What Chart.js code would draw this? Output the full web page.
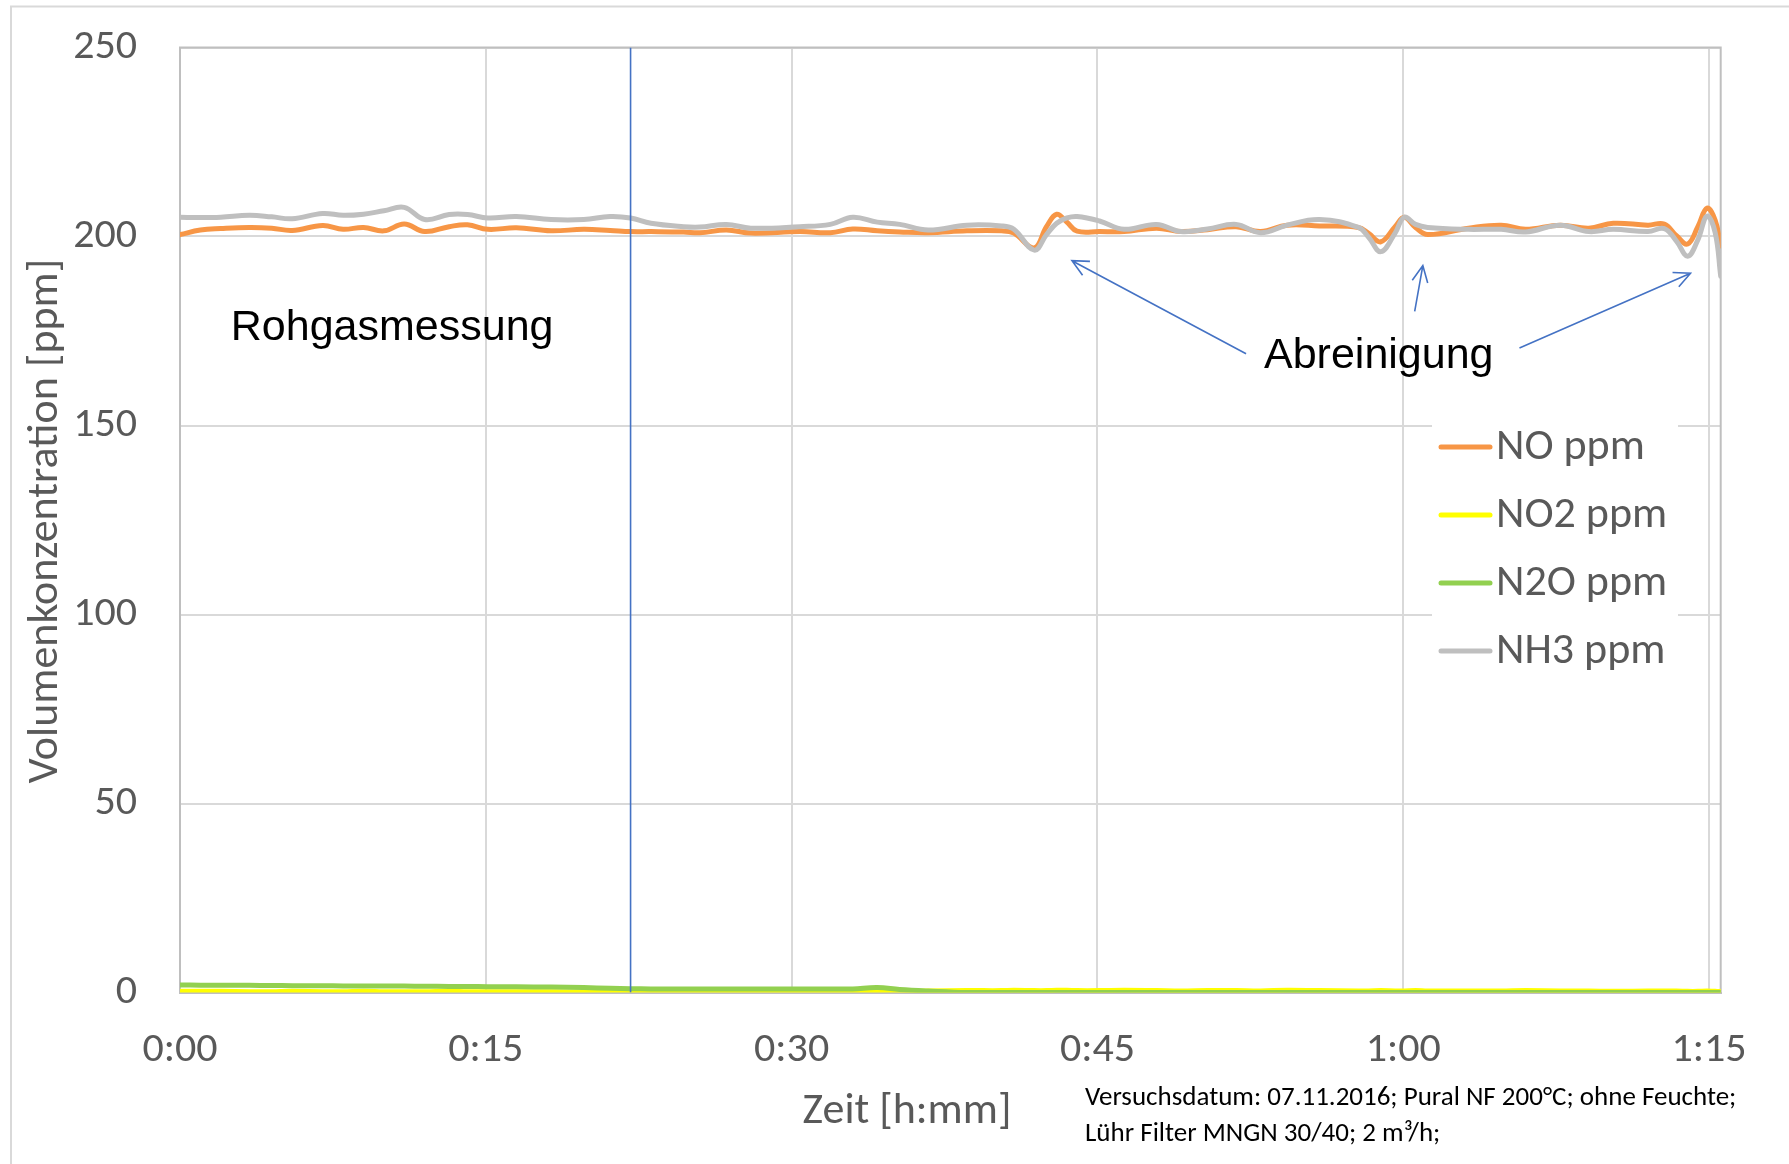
<!DOCTYPE html>
<html>
<head>
<meta charset="utf-8">
<title>Volumenkonzentration</title>
<script src="https://cdn.jsdelivr.net/npm/chart.js@4.4.1/dist/chart.umd.min.js"></script>
<style>
  html, body { margin: 0; padding: 0; background: #fff; }
  canvas { display: block; }
</style>
</head>
<body>
<canvas id="chart" width="1789" height="1164"></canvas>
<script>
// time in minutes since start of measurement
const minutes = [
  0, 1, 2, 3.4, 4.5, 5.5, 7, 8, 9, 10,
  11, 12, 13.2, 14.1, 15.1, 16.5, 18.2, 19.8, 21.1, 22.1,
  23.1, 24.7, 25.5, 26.8, 28, 30.4, 31.9, 33, 34.2, 35.3,
  36.7, 38.6, 40.3, 40.9, 41.9, 42.5, 43.0, 43.5, 44.0, 45.1,
  46.3, 47.9, 49.1, 50.4, 51.8, 53.0, 54.3, 55.9, 57.8, 58.3,
  58.9, 59.6, 60.05, 60.6, 61.2, 63.2, 64.8, 66.0, 67.7, 69.1,
  70.3, 72.0, 72.8, 73.4, 73.95, 74.45, 74.9, 75.3, 75.57,
];

const noPpm = [
  200.5, 201.7, 202.1, 202.4, 202.2, 201.6, 202.9, 201.9, 202.4, 201.5,
  203.3, 201.3, 202.6, 203.1, 201.9, 202.3, 201.5, 201.9, 201.6, 201.3,
  201.3, 201.2, 201.0, 201.7, 200.9, 201.3, 201.0, 202.0, 201.5, 201.2,
  201.0, 201.5, 201.5, 200.9, 197.0, 202.6, 205.9, 203.8, 201.4, 201.3,
  201.3, 202.2, 201.3, 201.8, 202.6, 201.3, 203.0, 202.8, 202.4, 200.8,
  198.6, 202.6, 205.1, 202.4, 200.5, 202.2, 203.0, 201.9, 203.0, 202.2,
  203.5, 203.0, 203.3, 200.2, 198.0, 202.6, 207.5, 204.3, 197.5,
];

const no2Ppm = [
  0.3, 0.3, 0.3, 0.2, 0.2, 0.3, 0.2, 0.2, 0.3, 0.2,
  0.2, 0.2, 0.3, 0.2, 0.2, 0.2, 0.2, 0.1, 0.1, 0.1,
  0.1, 0.1, 0.0, 0.0, 0.0, 0.0, 0.1, 0.1, 0.2, 0.3,
  0.4, 0.5, 0.5, 0.6, 0.5, 0.5, 0.6, 0.6, 0.5, 0.5,
  0.6, 0.5, 0.4, 0.5, 0.5, 0.4, 0.6, 0.5, 0.4, 0.4,
  0.5, 0.4, 0.4, 0.5, 0.4, 0.4, 0.4, 0.5, 0.4, 0.4,
  0.3, 0.4, 0.4, 0.4, 0.3, 0.3, 0.4, 0.3, 0.3,
];

const n2oPpm = [
  2.0, 1.95, 1.9, 1.9, 1.85, 1.8, 1.8, 1.75, 1.75, 1.7,
  1.7, 1.65, 1.6, 1.6, 1.55, 1.5, 1.45, 1.3, 1.1, 1.0,
  0.95, 0.95, 0.9, 0.9, 0.9, 0.9, 0.9, 0.95, 1.3, 0.8,
  0.4, 0.0, 0, 0, 0, 0, 0, 0, 0, 0,
  0, 0, 0, 0, 0, 0, 0, 0, 0, 0,
  0, 0, 0, 0, 0, 0, 0, 0, 0, 0,
  0, 0, 0, 0, 0, 0, 0, 0, 0,
];

const nh3Ppm = [
  205.1, 205.0, 205.1, 205.6, 205.2, 204.7, 206.1, 205.6, 205.9, 206.8,
  207.7, 204.5, 205.8, 205.8, 204.9, 205.3, 204.5, 204.5, 205.3, 204.9,
  203.5, 202.6, 202.5, 203.2, 202.2, 202.6, 203.2, 205.1, 203.8, 203.2,
  201.7, 203.0, 202.8, 201.9, 196.4, 200.5, 203.5, 204.9, 205.3, 204.1,
  201.9, 203.2, 201.3, 202.0, 203.2, 201.0, 203.0, 204.5, 202.4, 199.8,
  196.0, 200.9, 205.1, 203.2, 202.4, 201.9, 201.9, 201.2, 203.0, 201.3,
  201.9, 201.3, 202.1, 198.8, 194.8, 199.1, 205.4, 201.0, 189.5,
];

const xTicks = [0, 15, 30, 45, 60, 75];
const yTicks = [0, 50, 100, 150, 200, 250];
const xMax = 75.57;
const rawGasEnd = 22.1; // blue line: end of raw gas measurement

// annotations, in data units (minutes, ppm)
const textNotes = [
  { text: "Rohgasmessung", at: [2.49, 172.6] },
  { text: "Abreinigung", at: [53.17, 165.1] },
];
const arrowNotes = [
  { from: [52.29, 169.0], to: [43.75, 193.6] },
  { from: [60.56, 180.2], to: [60.96, 192.3] },
  { from: [65.70, 170.5], to: [74.09, 190.3] },
];

const uiFont = "Carlito, Lato, sans-serif";
const textGray = "#595959";

function fmtTime(v) {
  const h = Math.floor(v / 60);
  const m = Math.round(v % 60);
  return h + ":" + String(m).padStart(2, "0");
}

function toPoints(values) {
  return values.map((y, i) => ({ x: minutes[i], y }));
}

function series(label, values, color, order) {
  return {
    label,
    data: toPoints(values),
    borderColor: color,
    backgroundColor: color,
    borderWidth: 5,
    borderCapStyle: "round",
    borderJoinStyle: "round",
    pointRadius: 0,
    tension: 0.4,
    order,
  };
}

function drawArrow(ctx, x1, y1, x2, y2) {
  const ang = Math.atan2(y2 - y1, x2 - x1);
  const head = 18;
  ctx.beginPath();
  ctx.moveTo(x1, y1);
  ctx.lineTo(x2, y2);
  ctx.moveTo(x2 - head * Math.cos(ang - 0.45), y2 - head * Math.sin(ang - 0.45));
  ctx.lineTo(x2, y2);
  ctx.lineTo(x2 - head * Math.cos(ang + 0.45), y2 - head * Math.sin(ang + 0.45));
  ctx.stroke();
}

// white page, outer chart border, and frame round the plot area
const framePlugin = {
  id: "frame",
  beforeDraw(chart) {
    const ctx = chart.ctx;
    ctx.save();
    ctx.fillStyle = "#fff";
    ctx.fillRect(0, 0, chart.width, chart.height);
    ctx.strokeStyle = "#d9d9d9";
    ctx.lineWidth = 2;
    ctx.beginPath();
    ctx.moveTo(11, chart.height);
    ctx.lineTo(11, 6.5);
    ctx.lineTo(chart.width, 6.5);
    ctx.stroke();
    ctx.restore();
  },
  beforeDatasetsDraw(chart) {
    const { ctx, chartArea: a } = chart;
    ctx.save();
    ctx.strokeStyle = "#bfbfbf";
    ctx.lineWidth = 2;
    ctx.strokeRect(a.left, a.top, a.right - a.left, a.bottom - a.top);
    ctx.restore();
  },
};

const legendPlugin = {
  id: "boxLegend",
  afterDraw(chart) {
    const ctx = chart.ctx;
    const items = chart.data.datasets.filter((d) => d.label);
    ctx.save();
    ctx.fillStyle = "#fff";
    ctx.fillRect(1432, 416, 246, 263);
    ctx.font = "44px " + uiFont;
    ctx.textBaseline = "middle";
    items.forEach((d, i) => {
      const y = 447 + i * 68;
      ctx.strokeStyle = d.borderColor;
      ctx.lineWidth = 5;
      ctx.lineCap = "round";
      ctx.beginPath();
      ctx.moveTo(1441, y);
      ctx.lineTo(1490, y);
      ctx.stroke();
      ctx.fillStyle = textGray;
      ctx.fillText(d.label, 1496, y + 1);
    });
    ctx.restore();
  },
};

const notesPlugin = {
  id: "notes",
  afterDraw(chart) {
    const ctx = chart.ctx;
    const xs = chart.scales.x;
    const ys = chart.scales.y;
    const px = (p) => [xs.getPixelForValue(p[0]), ys.getPixelForValue(p[1])];
    ctx.save();

    ctx.fillStyle = "#000";
    ctx.font = "43px 'Liberation Sans', Arial, sans-serif";
    ctx.textBaseline = "alphabetic";
    for (const n of textNotes) {
      const [x, y] = px(n.at);
      ctx.fillText(n.text, x, y);
    }

    ctx.strokeStyle = "#4472c4";
    ctx.lineWidth = 1.6;
    for (const a of arrowNotes) {
      const [x1, y1] = px(a.from);
      const [x2, y2] = px(a.to);
      drawArrow(ctx, x1, y1, x2, y2);
    }

    // axis titles
    ctx.fillStyle = textGray;
    ctx.font = "44px " + uiFont;
    ctx.textAlign = "center";
    ctx.textBaseline = "middle";
    ctx.fillText("Zeit [h:mm]", 907, 1112);
    ctx.save();
    ctx.translate(46, 521);
    ctx.rotate(-Math.PI / 2);
    ctx.fillText("Volumenkonzentration [ppm]", 0, 0);
    ctx.restore();

    // test conditions
    ctx.fillStyle = "#000";
    ctx.font = "27px " + uiFont;
    ctx.textAlign = "left";
    ctx.textBaseline = "alphabetic";
    ctx.fillText("Versuchsdatum: 07.11.2016; Pural NF 200°C; ohne Feuchte;", 1085, 1105);
    ctx.fillText("Lühr Filter MNGN 30/40; 2 m³/h;", 1085, 1141);
    ctx.restore();
  },
};

function renderChart() {
  const canvas = document.getElementById("chart");
  const gridOpts = { color: "#d9d9d9", lineWidth: 2, drawTicks: false };
  const borderOpts = { color: "#bfbfbf", width: 2 };
  const tickFont = { family: uiFont, size: 42 };

  new Chart(canvas.getContext("2d"), {
    type: "line",
    data: {
      datasets: [
        series("NO ppm", noPpm, "#f79646", 4),
        series("NO2 ppm", no2Ppm, "#ffff00", 3),
        series("N2O ppm", n2oPpm, "#92d050", 2),
        series("NH3 ppm", nh3Ppm, "#bfbfbf", 1),
        {
          label: "",
          data: [{ x: rawGasEnd, y: 0 }, { x: rawGasEnd, y: 250 }],
          borderColor: "#4472c4",
          borderWidth: 1.6,
          pointRadius: 0,
          tension: 0,
          order: 0,
        },
      ],
    },
    options: {
      responsive: false,
      animation: false,
      events: [],
      layout: { padding: { left: 10, right: 68.3, top: 47.5, bottom: 0 } },
      plugins: { legend: { display: false }, tooltip: { enabled: false } },
      scales: {
        x: {
          type: "linear",
          min: 0,
          max: xMax,
          afterBuildTicks: (s) => { s.ticks = xTicks.map((v) => ({ value: v })); },
          afterFit: (s) => {
            s.height = 171.5;
            s.paddingLeft = 0;
            s.paddingRight = 0;
          },
          ticks: {
            callback: (v) => fmtTime(v),
            font: tickFont,
            color: textGray,
            padding: 33,
            maxRotation: 0,
            autoSkip: false,
          },
          grid: gridOpts,
          border: borderOpts,
        },
        y: {
          min: 0,
          max: 250,
          afterBuildTicks: (s) => { s.ticks = yTicks.map((v) => ({ value: v })); },
          afterFit: (s) => {
            // tick padding would otherwise push the plot top down
            s.width = 170;
            s.paddingTop = 0;
            s.paddingBottom = 0;
          },
          ticks: { font: tickFont, color: textGray, padding: 43 },
          grid: gridOpts,
          border: borderOpts,
        },
      },
    },
    plugins: [framePlugin, legendPlugin, notesPlugin],
  });
}

Promise.all([
  document.fonts.load("42px Lato"),
  document.fonts.load("43px 'Liberation Sans'"),
]).then(renderChart, renderChart);
</script>
</body>
</html>
